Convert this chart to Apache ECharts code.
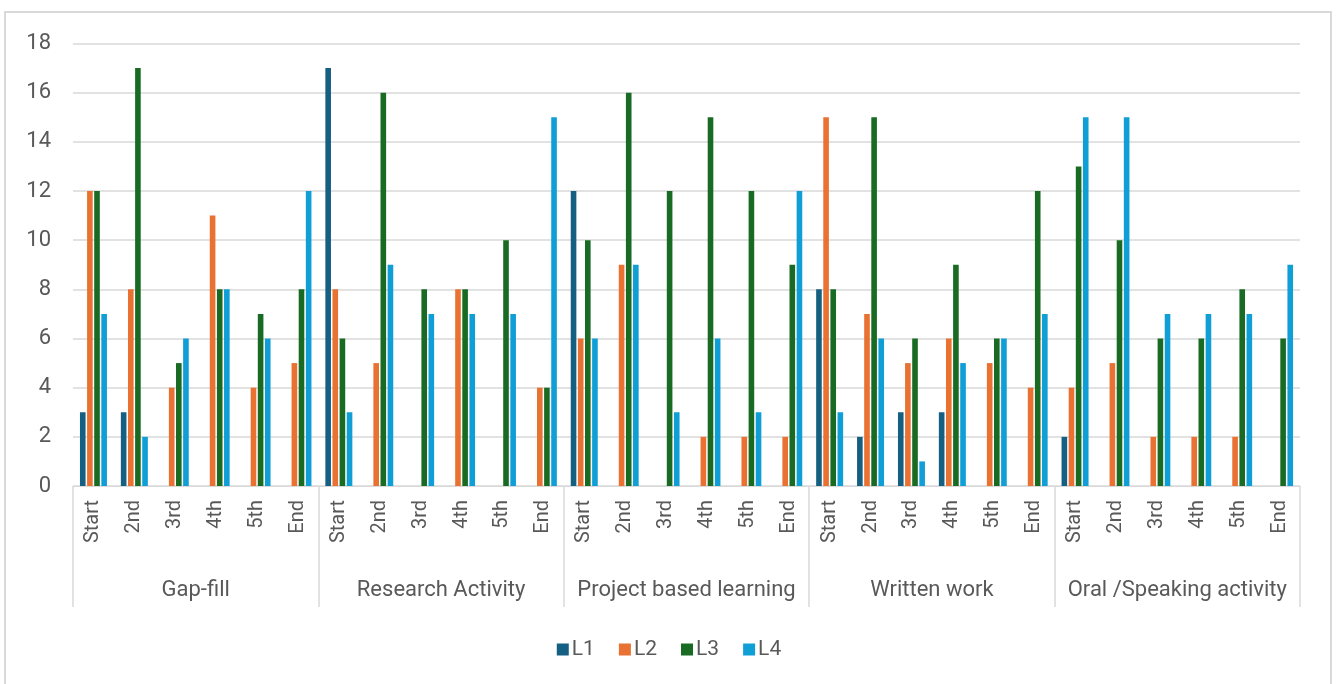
<!DOCTYPE html>
<html>
<head>
<meta charset="utf-8">
<script src="https://cdn.jsdelivr.net/npm/echarts@6/dist/echarts.min.js"></script>
<style>
  html, body { margin: 0; padding: 0; background: #ffffff; }
  #chart { width: 1338px; height: 684px; }
</style>
</head>
<body>
<div id="chart"></div>
<script>
// Activity groups and the stages within each group
const groups = ['Gap-fill', 'Research Activity', 'Project based learning', 'Written work', 'Oral /Speaking activity'];
const stages = ['Start', '2nd', '3rd', '4th', '5th', 'End'];
const seriesNames = ['L1', 'L2', 'L3', 'L4'];
const yTicks = [0, 2, 4, 6, 8, 10, 12, 14, 16, 18];

// Values per level, 6 stages for each of the 5 groups in order
const L1 = [3, 3, 0, 0, 0, 0,   17, 0, 0, 0, 0, 0,   12, 0, 0, 0, 0, 0,   8, 2, 3, 3, 0, 0,   2, 0, 0, 0, 0, 0];
const L2 = [12, 8, 4, 11, 4, 5,  8, 5, 0, 8, 0, 4,   6, 9, 0, 2, 2, 2,    15, 7, 5, 6, 5, 4,  4, 5, 2, 2, 2, 0];
const L3 = [12, 17, 5, 8, 7, 8,  6, 16, 8, 8, 10, 4, 10, 16, 12, 15, 12, 9, 8, 15, 6, 9, 6, 12, 13, 10, 6, 6, 8, 6];
const L4 = [7, 2, 6, 8, 6, 12,   3, 9, 7, 7, 7, 15,  6, 9, 3, 6, 3, 12,   3, 6, 1, 5, 6, 7,   15, 15, 7, 7, 7, 9];

const colors = ['#156082', '#E97132', '#196B24', '#0F9ED5'];
const values = [L1, L2, L3, L4];

// Flattened category list: every group repeats the stage labels
const categories = [];
groups.forEach(() => stages.forEach(s => categories.push(s)));

const textColor = '#595959';
const lineColor = '#d9d9d9';
const fontFamily = 'Roboto, "Noto Sans", sans-serif';

const chart = echarts.init(document.getElementById('chart'), null, { renderer: 'canvas' });

chart.setOption({
  animation: false,
  color: colors,
  textStyle: { fontFamily: fontFamily },
  graphic: [{
    type: 'rect',
    shape: { x: 5, y: 12, width: 1326, height: 690 },
    style: { fill: 'none', stroke: lineColor, lineWidth: 2 },
    silent: true
  }],
  grid: { left: 73, right: 38, top: 43.5, bottom: 198, containLabel: false },
  legend: {
    data: seriesNames,
    top: 634,
    left: 'center',
    itemWidth: 12,
    itemHeight: 12,
    itemGap: 24,
    icon: 'rect',
    textStyle: { color: textColor, fontSize: 21, fontFamily: fontFamily, padding: [0, 0, 0, -2] }
  },
  xAxis: [
    {
      type: 'category',
      data: categories,
      position: 'bottom',
      axisLine: { show: true, lineStyle: { color: lineColor, width: 1 } },
      axisTick: { show: false },
      axisLabel: {
        rotate: 90,
        interval: 0,
        margin: 14,
        color: textColor,
        fontSize: 20,
        fontFamily: fontFamily
      }
    },
    {
      type: 'category',
      data: groups,
      position: 'bottom',
      axisLine: { show: false },
      axisTick: { show: true, length: 121, lineStyle: { color: lineColor, width: 1.5 } },
      axisLabel: {
        interval: 0,
        margin: 93,
        color: textColor,
        fontSize: 22,
        fontFamily: fontFamily
      },
      splitLine: { show: false }
    }
  ],
  yAxis: {
    type: 'value',
    min: yTicks[0],
    max: yTicks[yTicks.length - 1],
    interval: yTicks[1] - yTicks[0],
    axisLine: { show: false },
    axisTick: { show: false },
    axisLabel: { color: textColor, fontSize: 22, margin: 22, fontFamily: fontFamily },
    splitLine: { lineStyle: { color: lineColor, width: 1.5 } }
  },
  series: seriesNames.map((name, i) => ({
    name: name,
    type: 'bar',
    xAxisIndex: 0,
    data: values[i],
    barGap: '27%',
    barCategoryGap: '34%',
    itemStyle: { color: colors[i] }
  }))
});
</script>
</body>
</html>
